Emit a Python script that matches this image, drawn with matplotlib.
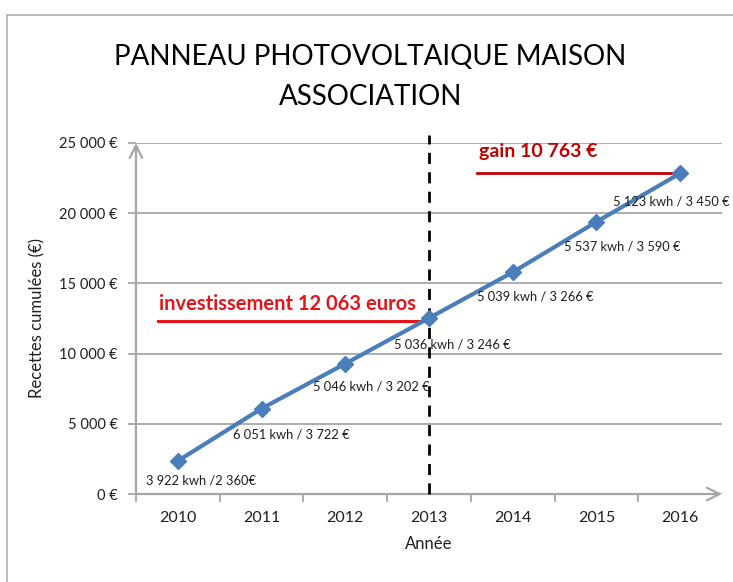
"""Panneau photovoltaique - recettes cumulees."""

import matplotlib

matplotlib.use("Agg")

import matplotlib.pyplot as plt
from matplotlib.lines import Line2D

plt.rcParams["font.family"] = ["Lato", "DejaVu Sans"]

years = ["2010", "2011", "2012", "2013", "2014", "2015", "2016"]
kwh = ["3 922", "6 051", "5 046", "5 036", "5 039", "5 537", "5 123"]
annual_eur = [2360, 3722, 3202, 3246, 3266, 3590, 3450]
cumulative = [2360, 6082, 9284, 12530, 15796, 19386, 22836]
labels = [
    "3 922 kwh /2 360€",
    "6 051 kwh / 3 722 €",
    "5 046 kwh / 3 202 €",
    "5 036 kwh / 3 246 €",
    "5 039 kwh / 3 266 €",
    "5 537 kwh / 3 590 €",
    "5 123 kwh / 3 450 €",
]
label_offsets = [(23, -20), (30, -26), (26, -23), (23, -26), (23, -24), (26, -25), (-9, -28)]
y_ticks = [0, 5000, 10000, 15000, 20000, 25000]
y_ticklabels = ["0 €", "5 000 €", "10 000 €", "15 000 €", "20 000 €", "25 000 €"]

GRAY = "#a6a6a6"
BLUE = "#4a7ebb"
RED = "#e3151a"
TEXT = "#1f1f1f"

fig = plt.figure(figsize=(7.33, 5.82), dpi=100)
ax = fig.add_axes([0.1855, 0.1512, 0.7995, 0.6031])

x = list(range(len(years)))
ax.set_xlim(-0.5, 6.5)
ax.set_ylim(0, 25000)

ax.set_yticks(y_ticks)
ax.set_yticklabels(y_ticklabels, fontsize=10.5, color=TEXT)
ax.set_xticks(x)
ax.set_xticklabels(years, fontsize=11.5, color=TEXT)
ax.set_xticks([i - 0.5 for i in range(len(years))], minor=True)
ax.tick_params(axis="x", which="major", length=0, pad=12)
ax.tick_params(axis="x", which="minor", length=6, color=GRAY, width=1.3)
ax.tick_params(axis="y", length=6, color=GRAY, width=1.3, pad=7)
ax.grid(axis="y", color=GRAY, linewidth=1.3)
ax.set_axisbelow(True)
for side in ("top", "right", "left", "bottom"):
    ax.spines[side].set_visible(False)

# axes drawn as arrows
arrow = dict(arrowstyle="->,head_length=0.9,head_width=0.45", color=GRAY, lw=1.6,
             shrinkA=0, shrinkB=0)
ax.annotate("", xy=(0, 1.0), xytext=(0, 0), xycoords="axes fraction", arrowprops=arrow)
ax.annotate("", xy=(1.0, 0), xytext=(0, 0), xycoords="axes fraction", arrowprops=arrow)

ax.plot(x, cumulative, color=BLUE, linewidth=3, marker="D", markersize=8,
        markeredgecolor=BLUE, zorder=4)

for xi, yi, text, (dx, dy) in zip(x, cumulative, labels, label_offsets):
    ax.annotate(text, (xi, yi), xytext=(dx, dy), textcoords="offset pixels",
                ha="center", va="center", fontsize=9.3, color=TEXT, zorder=5,
                annotation_clip=False)

# break-even marker
ax.plot([3, 3], [0, 25600], color="black", linestyle=(0, (4, 3)), linewidth=2,
        clip_on=False, zorder=3)

ax.plot([-0.24, 3], [12300, 12300], color=RED, linewidth=2.2, zorder=3)
ax.text(-0.22, 13500, "investissement 12 063 euros", color=RED, fontsize=14.5,
        fontweight="bold", ha="left", va="center")
ax.plot([3.57, 5.95], [22836, 22836], color="#c00000", linewidth=2, zorder=3)
ax.text(3.6, 24400, "gain 10 763 €", color="#c00000", fontsize=14,
        fontweight="bold", ha="left", va="center")

ax.set_xlabel("Année", fontsize=12, color=TEXT, labelpad=8)
ax.set_ylabel("Recettes cumulées (€)", fontsize=12, color=TEXT, labelpad=10)

fig.text(0.505, 0.902, "PANNEAU PHOTOVOLTAIQUE MAISON", ha="center", va="center",
         fontsize=20, color="black")
fig.text(0.505, 0.834, "ASSOCIATION", ha="center", va="center",
         fontsize=20, color="black")

# outer chart frame
fig.add_artist(Line2D([7 / 733, 7 / 733], [0, 1 - 15 / 582], color="#b5b5b5", lw=1.3))
fig.add_artist(Line2D([7 / 733, 1], [1 - 15 / 582, 1 - 15 / 582], color="#b5b5b5", lw=1.3))

fig.savefig("out.png", dpi=100, facecolor="white")
